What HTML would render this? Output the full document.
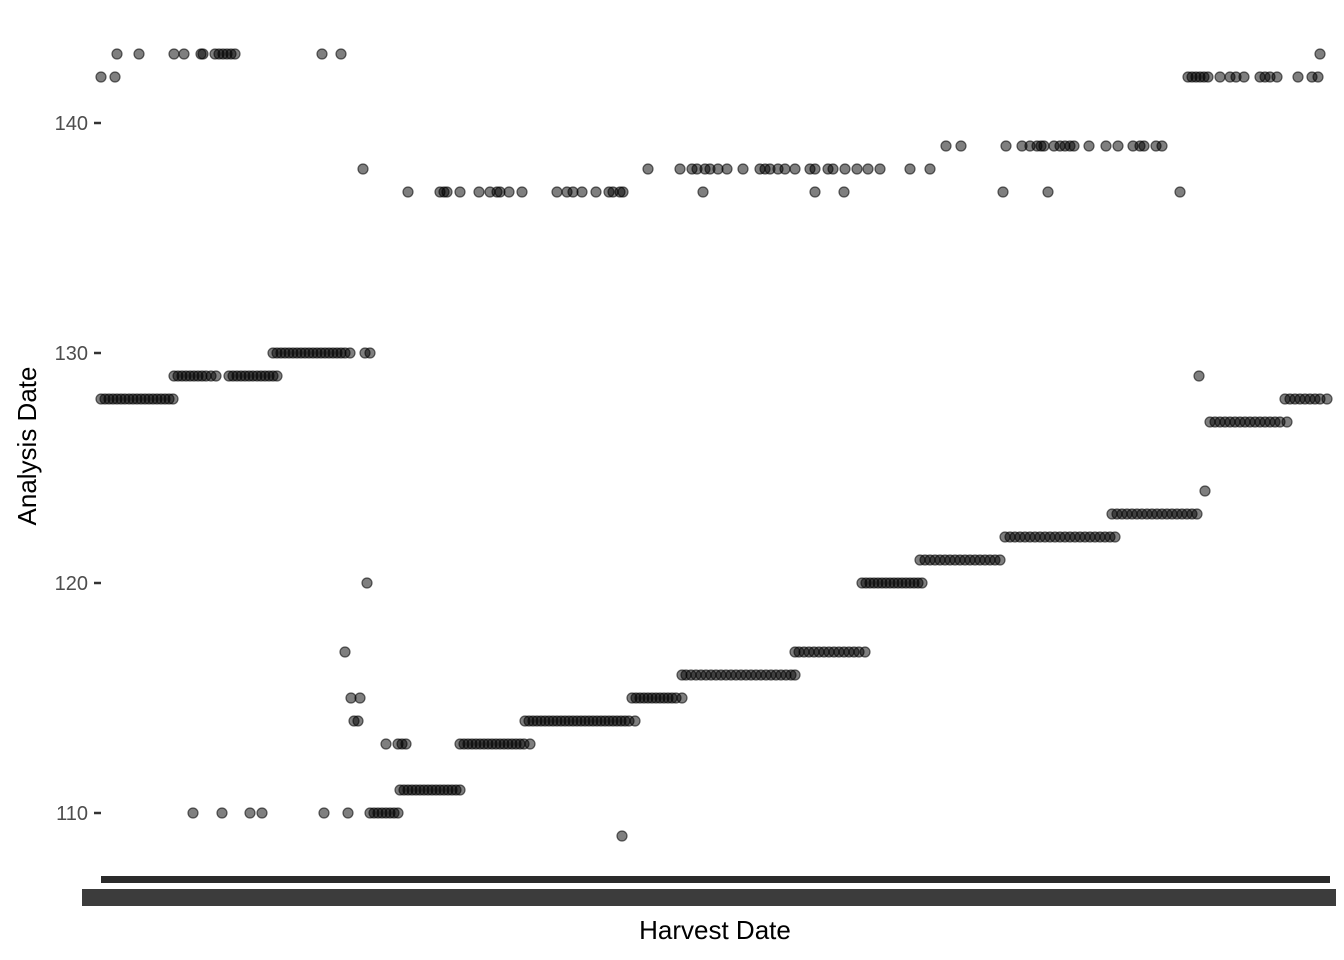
<!DOCTYPE html>
<html><head><meta charset="utf-8"><style>
html,body{margin:0;padding:0;background:#fff;}
svg{display:block;font-family:"Liberation Sans",Arial,sans-serif;}
</style></head><body>
<svg id="chart" width="1344" height="960">
<rect x="0" y="0" width="1344" height="960" fill="#fff"/>
<g id="yaxis"></g>
<g id="xaxis"></g>
<g id="points"></g>
<text x="715" y="939" font-size="26" text-anchor="middle" fill="#000">Harvest Date</text>
<text transform="translate(36,446) rotate(-90)" font-size="26" text-anchor="middle" fill="#000">Analysis Date</text>
</svg>
<script>
const NS="http://www.w3.org/2000/svg";
const categoryCount=1230;
const yTicks=[110,120,130,140];
const series={
128:[0,4,8,12,16,20,24,28,32,36,40,44,48,52,56,60,64,68,72,1184,1189,1194,1199,1204,1209,1214,1219,1226],
129:[73,77,81,85,89,93,97,101,105,110,115,128,132,136,140,144,148,152,156,160,164,168,172,176,1098],
130:[172,176,180,184,188,192,196,200,204,208,212,216,220,224,228,232,236,240,244,249,264,269],
110:[92,121,149,161,223,247,269,273,277,281,285,289,293,297],
111:[299,303,307,311,315,319,323,327,331,335,339,343,347,351,355,359],
113:[285,297,301,305,359,363,367,371,375,379,383,387,391,395,399,403,407,411,415,419,423,429],
114:[253,257,424,428,432,436,440,444,448,452,456,460,464,468,472,476,480,484,488,492,496,500,504,508,512,516,520,524,528,534],
115:[250,259,531,535,539,543,547,551,555,559,563,567,571,575,581],
116:[581,585,590,595,600,605,610,615,620,625,630,635,640,645,650,655,660,665,670,675,680,685,690,694],
117:[244,694,698,703,708,713,718,723,728,733,738,743,748,753,758,764],
120:[266,761,765,769,773,777,781,785,789,793,797,801,805,809,813,817,821],
121:[819,824,829,834,839,844,849,854,859,864,869,874,879,884,889,894,899],
122:[904,909,914,919,924,929,934,939,944,949,954,959,964,969,974,979,984,989,994,999,1004,1009,1014],
123:[1011,1016,1021,1026,1031,1036,1041,1046,1051,1056,1061,1066,1071,1076,1081,1086,1091,1096],
124:[1104],
109:[521],
127:[1109,1114,1119,1124,1129,1134,1139,1144,1149,1154,1159,1164,1169,1174,1179,1186],
137:[307,339,343,346,359,378,389,396,399,408,421,456,466,472,481,495,508,512,519,522,602,714,743,902,947,1079],
138:[262,547,579,591,596,604,609,617,626,642,659,664,669,677,684,694,709,714,727,732,744,756,767,779,809,829],
139:[845,860,905,921,929,936,940,943,953,959,964,969,973,988,1005,1017,1032,1039,1043,1055,1061],
142:[0,14,1087,1091,1095,1099,1103,1107,1119,1129,1135,1143,1159,1164,1169,1176,1197,1211,1217],
143:[16,38,73,83,100,102,114,118,122,126,130,134,221,240,1219]
};
const X0=101,X1=1330;
function xScale(i){return X0+i*(X1-X0)/(categoryCount-1);}
function yScale(v){return 813-(v-110)*23;}
const ya=document.getElementById('yaxis');
yTicks.forEach(t=>{
  const y=yScale(t);
  const l=document.createElementNS(NS,'line');
  l.setAttribute('x1',94);l.setAttribute('x2',101);l.setAttribute('y1',y);l.setAttribute('y2',y);
  l.setAttribute('stroke','#333');l.setAttribute('stroke-width',2.5);
  
  
  ya.appendChild(l);
  const tx=document.createElementNS(NS,'text');
  tx.setAttribute('x',88);tx.setAttribute('y',y+7);tx.setAttribute('text-anchor','end');
  tx.setAttribute('font-size','20');tx.setAttribute('fill','#4d4d4d');
  tx.textContent=t;
  
  
  ya.appendChild(tx);
});
const xa=document.getElementById('xaxis');
const band=document.createElementNS(NS,'rect');
band.setAttribute('x',101);band.setAttribute('y',876);band.setAttribute('width',1229);band.setAttribute('height',7);
band.setAttribute('fill','#2b2b2b');


xa.appendChild(band);
const lab=document.createElementNS(NS,'rect');
lab.setAttribute('x',82);lab.setAttribute('y',889);lab.setAttribute('width',1254);lab.setAttribute('height',17);
lab.setAttribute('fill','#3c3c3c');


xa.appendChild(lab);
const pg=document.getElementById('points');
Object.keys(series).forEach(v=>{
  series[v].forEach(i=>{
    const c=document.createElementNS(NS,'circle');
    c.setAttribute('cx',xScale(i));c.setAttribute('cy',yScale(+v));c.setAttribute('r',5);
    c.setAttribute('fill','rgba(0,0,0,0.5)');c.setAttribute('stroke','rgba(0,0,0,0.6)');c.setAttribute('stroke-width',1.2);
    
    
    pg.appendChild(c);
  });
});
</script>
</body></html>
